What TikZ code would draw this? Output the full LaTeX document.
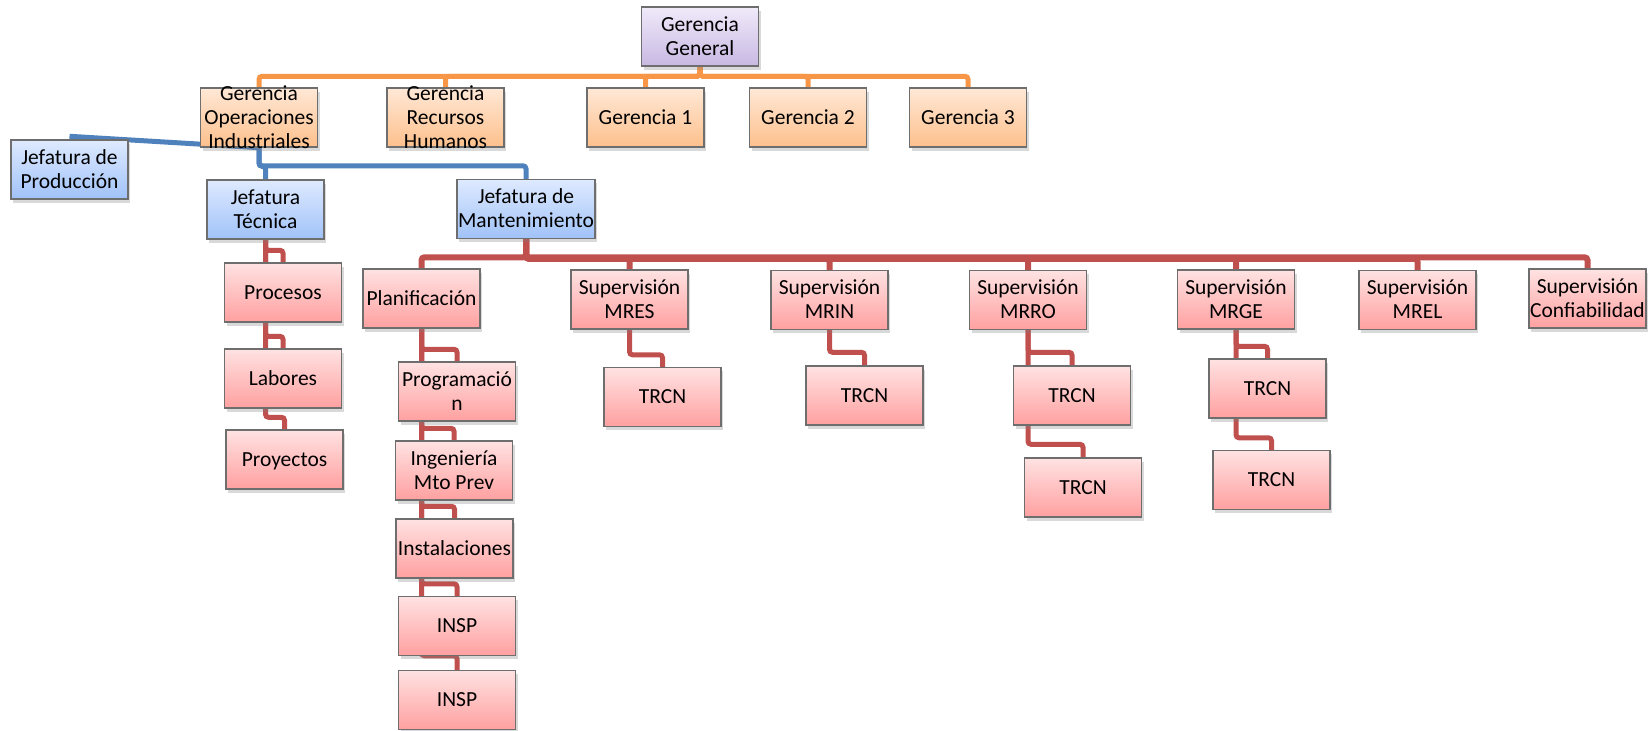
\documentclass[tikz,border=0pt]{standalone}
\usepackage{fontspec}
\setmainfont{Carlito}
\usetikzlibrary{shadows,backgrounds,calc}

% line colours
\definecolor{lnOrange}{HTML}{F79646}
\definecolor{lnBlue}{HTML}{4F81BD}
\definecolor{lnRed}{HTML}{C0504D}
\definecolor{edgeGray}{HTML}{6E6E6E}
% box fills (top / bottom of the gradient)
\definecolor{pkTop}{RGB}{255,226,226}
\definecolor{pkBot}{RGB}{255,160,160}
\definecolor{orTop}{RGB}{255,232,214}
\definecolor{orBot}{RGB}{253,192,140}
\definecolor{blTop}{RGB}{222,234,255}
\definecolor{blBot}{RGB}{160,194,248}
\definecolor{puTop}{RGB}{240,234,250}
\definecolor{puBot}{RGB}{200,184,226}

% centred lines of text that never change the box size
\newcommand\boxlines[1]{\smash{\raisebox{-3.8pt}{\begin{tabular}{@{}c@{}}#1\end{tabular}}}}

\tikzset{
  orgbox/.style={rectangle, draw=edgeGray, line width=0.7pt, inner sep=0pt,
    minimum width=58.5pt, minimum height=29.5pt,
    font=\fontsize{10.75}{12}\selectfont,
    drop shadow={shadow xshift=1pt, shadow yshift=-1.8pt, opacity=0.3}},
  pinkbox/.style={orgbox, top color=pkTop, bottom color=pkBot},
  orangebox/.style={orgbox, top color=orTop, bottom color=orBot},
  bluebox/.style={orgbox, top color=blTop, bottom color=blBot},
  purplebox/.style={orgbox, top color=puTop, bottom color=puBot},
  link/.style={line width=2.5pt, rounded corners=1.5pt},
  orangelink/.style={link, draw=lnOrange},
  bluelink/.style={link, draw=lnBlue},
  redlink/.style={link, draw=lnRed},
}

\begin{document}
\begin{tikzpicture}[x=0.5pt, y=-0.5pt]
\useasboundingbox (0,0) rectangle (1650,731);

% ---- top management ----
\node[purplebox] (gg) at (700,36.5) {\boxlines{Gerencia\\General}};
\node[orangebox] (goi) at (259,117.5) {\boxlines{Gerencia\\Operaciones\\Industriales}};
\node[orangebox] (grh) at (445.5,117.5) {\boxlines{Gerencia\\Recursos\\Humanos}};
\node[orangebox] (g1) at (645.5,117.5) {\boxlines{Gerencia 1}};
\node[orangebox] (g2) at (808,117.5) {\boxlines{Gerencia 2}};
\node[orangebox] (g3) at (968,117.5) {\boxlines{Gerencia 3}};

% ---- departments ----
\node[bluebox] (jp) at (69.5,169.5) {\boxlines{Jefatura de\\Producción}};
\node[bluebox] (jt) at (265.5,209.5) {\boxlines{Jefatura\\Técnica}};
\node[bluebox, minimum width=69pt] (jm) at (526,209) {\boxlines{Jefatura de\\Mantenimiento}};

% ---- technical branch ----
\node[pinkbox] (proc) at (283,292.5) {\boxlines{Procesos}};
\node[pinkbox] (lab) at (283,378.5) {\boxlines{Labores}};
\node[pinkbox] (proy) at (284.5,459.5) {\boxlines{Proyectos}};

% ---- maintenance branch ----
\node[pinkbox] (plan) at (421.5,298.5) {\boxlines{Planificación}};
\node[pinkbox] (prog) at (457,391.5) {\boxlines{Programació\\n}};
\node[pinkbox] (ing) at (454,470.5) {\boxlines{Ingeniería\\Mto Prev}};
\node[pinkbox] (inst) at (454.5,548.5) {\boxlines{Instalaciones}};
\node[pinkbox] (inspa) at (457,626) {\boxlines{INSP}};
\node[pinkbox] (inspb) at (457,700) {\boxlines{INSP}};

\node[pinkbox] (mres) at (629.5,299.5) {\boxlines{Supervisión\\MRES}};
\node[pinkbox] (mrin) at (829.5,300) {\boxlines{Supervisión\\MRIN}};
\node[pinkbox] (mrro) at (1028,300) {\boxlines{Supervisión\\MRRO}};
\node[pinkbox] (mrge) at (1236,299.5) {\boxlines{Supervisión\\MRGE}};
\node[pinkbox] (mrel) at (1417.5,300) {\boxlines{Supervisión\\MREL}};
\node[pinkbox] (conf) at (1587.5,298.5) {\boxlines{Supervisión\\Confiabilidad}};

\node[pinkbox] (tres) at (662.5,397) {\boxlines{TRCN}};
\node[pinkbox] (trin) at (864.5,395.5) {\boxlines{TRCN}};
\node[pinkbox] (trroa) at (1072,395.5) {\boxlines{TRCN}};
\node[pinkbox] (trrob) at (1083,487.5) {\boxlines{TRCN}};
\node[pinkbox] (trgea) at (1267.5,388.5) {\boxlines{TRCN}};
\node[pinkbox] (trgeb) at (1271.5,480) {\boxlines{TRCN}};

% ---- connectors, behind the boxes ----
\begin{pgfonlayer}{background}
  % general management to the managements
  \foreach \c in {goi,grh,g1,g2,g3}
    \draw[orangelink] (gg.south) |- ($(\c.north)+(0,-11)$) -- (\c.north);

  % industrial operations to its departments
  \draw[bluelink] ($(jp.north)+(0,-3)$) -- (goi.south);
  \foreach \c in {jt,jm}
    \draw[bluelink] (goi.south) |- ($(\c.north)+(0,-13)$) -- (\c.north);

  % maintenance head to planning and supervisions
  \foreach \c in {plan,mres,mrin,mrro,mrge,mrel,conf}
    \draw[redlink, line width=3pt] (jm.south) |- ($(\c.north)+(0,-11)$) -- (\c.north);

  % hanging lists
  \foreach \c in {proc,lab,proy}
    \draw[redlink] (jt.south) |- ($(\c.north)+(0,-12)$) -- (\c.north);
  \foreach \c in {prog,ing,inst,inspa}
    \draw[redlink] (plan.south) |- ($(\c.north)+(0,-12)$) -- (\c.north);
  \draw[redlink] (plan.south) |- ($(inspb.north)+(0,-14)$) -- (inspb.north);
  \draw[redlink] (mres.south) |- ($(tres.north)+(0,-12)$) -- (tres.north);
  \draw[redlink] (mrin.south) |- ($(trin.north)+(0,-13)$) -- (trin.north);
  \foreach \c in {trroa,trrob}
    \draw[redlink] (mrro.south) |- ($(\c.north)+(0,-13)$) -- (\c.north);
  \foreach \c in {trgea,trgeb}
    \draw[redlink] (mrge.south) |- ($(\c.north)+(0,-12)$) -- (\c.north);
\end{pgfonlayer}
\end{tikzpicture}
\end{document}
